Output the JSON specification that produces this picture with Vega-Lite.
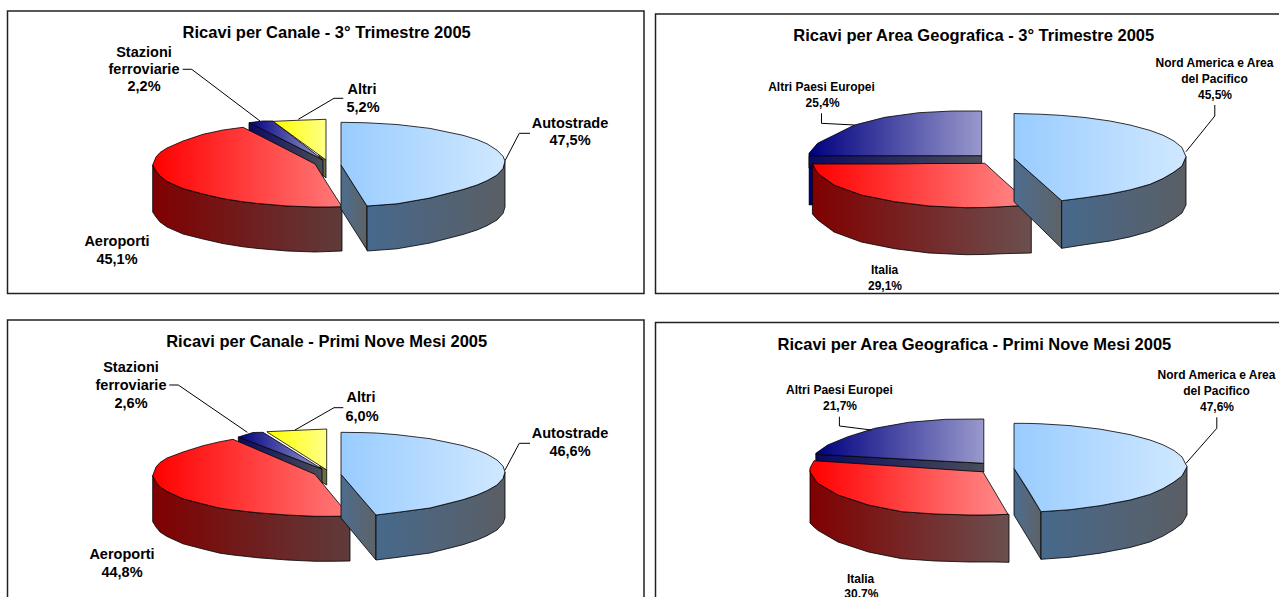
{
"$schema":"https://vega.github.io/schema/vega-lite/v6.json",
"description":"Four pseudo-3D exploded pies. Arc marks cannot be elliptical, so faces are area marks traced from the reference picture; the printed shares are the labelled values.",
"width":1279,"height":597,"padding":0,"autosize":{"type":"none"},
"background":"white","view":{"stroke":null},
"datasets":{
"frames":[{"panel":"A","x":7.5,"x2":644,"y":11,"y2":293.5},{"panel":"B","x":655.5,"x2":1300,"y":14,"y2":293.5},{"panel":"C","x":7.5,"x2":644,"y":320,"y2":610},{"panel":"D","x":655.5,"x2":1300,"y":322.5,"y2":610}],
"titles":[{"text":"Ricavi per Canale - 3° Trimestre 2005","x":326.7,"y":33},{"text":"Ricavi per Area Geografica - 3° Trimestre 2005","x":973.7,"y":36},{"text":"Ricavi per Canale - Primi Nove Mesi 2005","x":326.7,"y":342},{"text":"Ricavi per Area Geografica - Primi Nove Mesi 2005","x":974.4,"y":345}],
"labelsLeft":[{"text":"Stazioni","x":144,"y":53},{"text":"ferroviarie","x":144,"y":70},{"text":"2,2%","x":144,"y":87},{"text":"Altri","x":362,"y":90},{"text":"5,2%","x":363,"y":108},{"text":"Autostrade","x":570,"y":124},{"text":"47,5%","x":570,"y":141},{"text":"Aeroporti","x":117,"y":242},{"text":"45,1%","x":117,"y":260},
{"text":"Stazioni","x":131,"y":368},{"text":"ferroviarie","x":131,"y":386},{"text":"2,6%","x":131,"y":404},{"text":"Altri","x":361,"y":398},{"text":"6,0%","x":362,"y":417},{"text":"Autostrade","x":570,"y":434},{"text":"46,6%","x":570,"y":452},{"text":"Aeroporti","x":122,"y":555},{"text":"44,8%","x":122,"y":572.7}],
"labelsRight":[{"text":"Altri Paesi Europei","x":821.5,"y":87},{"text":"25,4%","x":822.6,"y":103.3},{"text":"Nord America e Area","x":1214.5,"y":62.7},{"text":"del Pacifico","x":1214.5,"y":79},{"text":"45,5%","x":1215,"y":95},{"text":"Italia","x":884.6,"y":270},{"text":"29,1%","x":885,"y":286},
{"text":"Altri Paesi Europei","x":839.4,"y":390.3},{"text":"21,7%","x":840,"y":406},{"text":"Nord America e Area","x":1216.5,"y":375},{"text":"del Pacifico","x":1216.5,"y":391},{"text":"47,6%","x":1217,"y":407},{"text":"Italia","x":860.6,"y":579},{"text":"30,7%","x":861.3,"y":594.3}],
"leaders":[
{"id":"A1","i":1,"x":182.7,"y":69.3},{"id":"A1","i":2,"x":191.7,"y":69.3},{"id":"A1","i":3,"x":260,"y":121},
{"id":"A2","i":1,"x":343.3,"y":98.3},{"id":"A2","i":2,"x":334,"y":98.3},{"id":"A2","i":3,"x":298.3,"y":119.3},
{"id":"A3","i":1,"x":530,"y":133.3},{"id":"A3","i":2,"x":519.3,"y":133.3},{"id":"A3","i":3,"x":505,"y":160.7},
{"id":"B1","i":1,"x":821.5,"y":113.3},{"id":"B1","i":2,"x":821.5,"y":123.3},{"id":"B1","i":3,"x":854.5,"y":125},
{"id":"B2","i":1,"x":1214.8,"y":105},{"id":"B2","i":2,"x":1214.8,"y":116},{"id":"B2","i":3,"x":1186,"y":151.7},
{"id":"C1","i":1,"x":169.3,"y":385},{"id":"C1","i":2,"x":178.3,"y":385},{"id":"C1","i":3,"x":247.3,"y":432.3},
{"id":"C2","i":1,"x":343.3,"y":407.7},{"id":"C2","i":2,"x":334,"y":407.7},{"id":"C2","i":3,"x":295,"y":430},
{"id":"C3","i":1,"x":530,"y":443.3},{"id":"C3","i":2,"x":519.3,"y":443.3},{"id":"C3","i":3,"x":505,"y":470},
{"id":"D1","i":1,"x":839.4,"y":416.7},{"id":"D1","i":2,"x":839.4,"y":426},{"id":"D1","i":3,"x":871.4,"y":430},
{"id":"D2","i":1,"x":1216.8,"y":417.3},{"id":"D2","i":2,"x":1216.8,"y":428.3},{"id":"D2","i":3,"x":1186,"y":463.3}],

"A_altri_wall":[{"x":319,"y":154,"y2":172},{"x":326,"y":160,"y2":178}],
"A_altri_top":[{"x":274,"y":121.3,"y2":122},{"x":300,"y":120.2,"y2":141},{"x":326,"y":119.3,"y2":160}],
"A_staz_wall":[{"x":249,"y":122.7,"y2":135},{"x":323,"y":160,"y2":178}],
"A_staz_top":[{"x":249,"y":122.7,"y2":122.7},{"x":263,"y":121,"y2":129.7},{"x":273,"y":121,"y2":134.7},{"x":323,"y":160,"y2":160}],
"A_aero_wall":[{"x":152.7,"y":165,"y2":212},{"x":156,"y":171,"y2":217},{"x":160,"y":176,"y2":222},{"x":167,"y":181.5,"y2":227},{"x":183,"y":188.6,"y2":234},{"x":203,"y":194,"y2":239},{"x":223,"y":198.6,"y2":243.6},{"x":243,"y":201.8,"y2":246.8},{"x":257,"y":203.4,"y2":248.4},{"x":287,"y":206,"y2":251},{"x":315,"y":207,"y2":252},{"x":342,"y":206.7,"y2":251}],
"A_aero_top":[{"x":152.7,"y":165,"y2":165},{"x":156,"y":157,"y2":171},{"x":160,"y":152.5,"y2":176},{"x":167,"y":148,"y2":181.5},{"x":183,"y":141,"y2":188.6},{"x":203,"y":134.3,"y2":194},{"x":223,"y":130,"y2":198.6},{"x":243,"y":127.3,"y2":201.8},{"x":257,"y":134.3,"y2":203.4},{"x":287,"y":149.6,"y2":206},{"x":315,"y":164,"y2":207},{"x":330,"y":188,"y2":207},{"x":342,"y":206.7,"y2":206.7}],
"A_auto_inner":[{"x":341,"y":165,"y2":209},{"x":367,"y":206,"y2":250}],
"A_auto_front":[{"x":367,"y":206,"y2":251},{"x":397,"y":203.8,"y2":248.8},{"x":430,"y":198,"y2":243},{"x":463,"y":189.5,"y2":234.5},{"x":477,"y":185,"y2":230},{"x":487,"y":180.7,"y2":225.7},{"x":497,"y":175,"y2":220},{"x":503,"y":168.5,"y2":213.5},{"x":505,"y":161,"y2":207}],
"A_auto_top":[{"x":341,"y":122.3,"y2":165},{"x":353,"y":122.5,"y2":184},{"x":367,"y":122.8,"y2":206},{"x":397,"y":124.5,"y2":203.8},{"x":430,"y":128.4,"y2":198},{"x":463,"y":135.3,"y2":189.5},{"x":477,"y":139.6,"y2":185},{"x":487,"y":143.8,"y2":180.7},{"x":497,"y":150.2,"y2":175},{"x":503,"y":156.3,"y2":168.5},{"x":505,"y":161,"y2":161}],

"B_altri_strip":[{"x":809,"y":155.7,"y2":205},{"x":812.7,"y":155.7,"y2":205}],
"B_altri_wall":[{"x":809,"y":155.7,"y2":168},{"x":981.7,"y":155.7,"y2":168}],
"B_altri_top":[{"x":809,"y":153.3,"y2":155.7},{"x":817.5,"y":143.3,"y2":155.7},{"x":834.3,"y":135,"y2":155.7},{"x":854.5,"y":125,"y2":155.7},{"x":884.9,"y":117.3,"y2":155.7},{"x":918.7,"y":112.7,"y2":155.7},{"x":952.4,"y":111,"y2":155.7},{"x":981.7,"y":111,"y2":155.7}],
"B_ital_wall":[{"x":812.4,"y":164,"y2":214},{"x":817.8,"y":173.3,"y2":220},{"x":834,"y":185,"y2":232},{"x":861.3,"y":195,"y2":242},{"x":894.7,"y":201.7,"y2":248.7},{"x":929,"y":206,"y2":253},{"x":965.6,"y":207.7,"y2":254.7},{"x":984.8,"y":207.5,"y2":254.5},{"x":1003,"y":206.7,"y2":253.7},{"x":1031.3,"y":205,"y2":253}],
"B_ital_top":[{"x":812.4,"y":164,"y2":164},{"x":817.8,"y":164,"y2":173.3},{"x":834,"y":164,"y2":185},{"x":861.3,"y":164,"y2":195},{"x":894.7,"y":164,"y2":201.7},{"x":929,"y":163.5,"y2":206},{"x":965.6,"y":163.5,"y2":207.7},{"x":984.8,"y":163.3,"y2":207.5},{"x":1003,"y":180,"y2":206.7},{"x":1031.3,"y":205,"y2":205}],
"B_nord_inner":[{"x":1014,"y":158.3,"y2":201.7},{"x":1061.7,"y":200.7,"y2":248.3}],
"B_nord_front":[{"x":1061.7,"y":200.7,"y2":248.3},{"x":1085,"y":197.7,"y2":244.7},{"x":1110,"y":194,"y2":241},{"x":1130,"y":189.9,"y2":236.9},{"x":1150,"y":184.3,"y2":231.3},{"x":1163,"y":178.5,"y2":225.5},{"x":1174,"y":172,"y2":219},{"x":1182,"y":166,"y2":213},{"x":1186,"y":156.7,"y2":205}],
"B_nord_top":[{"x":1014,"y":113.5,"y2":158.3},{"x":1040,"y":114.2,"y2":181.4},{"x":1061.7,"y":115.4,"y2":200.7},{"x":1085,"y":117.5,"y2":197.7},{"x":1110,"y":121,"y2":194},{"x":1130,"y":125,"y2":189.9},{"x":1150,"y":130.4,"y2":184.3},{"x":1163,"y":135.2,"y2":178.5},{"x":1174,"y":141,"y2":172},{"x":1182,"y":147.5,"y2":166},{"x":1186,"y":156.7,"y2":156.7}],

"C_altri_wall":[{"x":320,"y":465,"y2":481},{"x":326.7,"y":470,"y2":485}],
"C_altri_top":[{"x":267,"y":431.7,"y2":432},{"x":297,"y":430.3,"y2":451},{"x":326.7,"y":429,"y2":470}],
"C_staz_wall":[{"x":238.3,"y":437,"y2":444},{"x":322,"y":469,"y2":486}],
"C_staz_top":[{"x":238.3,"y":437,"y2":437},{"x":253,"y":432.5,"y2":442.6},{"x":263,"y":432.3,"y2":446.4},{"x":322,"y":469,"y2":469}],
"C_aero_wall":[{"x":152.7,"y":475.7,"y2":521.7},{"x":156,"y":482,"y2":527},{"x":160,"y":487,"y2":532},{"x":167,"y":491.5,"y2":536.5},{"x":183,"y":498.8,"y2":543.8},{"x":203,"y":504,"y2":549},{"x":220,"y":508.2,"y2":553.2},{"x":233,"y":510,"y2":555},{"x":257,"y":512.7,"y2":557.7},{"x":287,"y":515,"y2":560},{"x":315,"y":516.3,"y2":561.3},{"x":332,"y":516.3,"y2":561.3},{"x":350,"y":516,"y2":561}],
"C_aero_top":[{"x":152.7,"y":475.7,"y2":475.7},{"x":156,"y":467,"y2":482},{"x":160,"y":462.5,"y2":487},{"x":167,"y":458,"y2":491.5},{"x":183,"y":452,"y2":498.8},{"x":203,"y":445.7,"y2":504},{"x":220,"y":441.7,"y2":508.2},{"x":233,"y":439.3,"y2":510},{"x":257,"y":449.5,"y2":512.7},{"x":287,"y":462.3,"y2":515},{"x":315,"y":474.3,"y2":516.3},{"x":332,"y":495,"y2":516.3},{"x":349.3,"y":516,"y2":516}],
"C_auto_inner":[{"x":341,"y":474.3,"y2":518},{"x":376,"y":515,"y2":560}],
"C_auto_front":[{"x":376,"y":515,"y2":560},{"x":397,"y":512.4,"y2":557.4},{"x":430,"y":508,"y2":553},{"x":463,"y":499.7,"y2":544.7},{"x":477,"y":495,"y2":540},{"x":487,"y":490.7,"y2":535.7},{"x":497,"y":485,"y2":530},{"x":503,"y":478.5,"y2":523.5},{"x":505,"y":472,"y2":518}],
"C_auto_top":[{"x":341,"y":432.3,"y2":474.3},{"x":363,"y":432.6,"y2":500},{"x":376,"y":433,"y2":515},{"x":397,"y":434.7,"y2":512.4},{"x":430,"y":438.7,"y2":508},{"x":463,"y":445.6,"y2":499.7},{"x":477,"y":449.9,"y2":495},{"x":487,"y":454.1,"y2":490.7},{"x":497,"y":460,"y2":485},{"x":503,"y":466.1,"y2":478.5},{"x":505,"y":472,"y2":472}],

"D_altri_wall":[{"x":815.8,"y":454.3,"y2":468},{"x":983.8,"y":463.3,"y2":472}],
"D_altri_top":[{"x":815.8,"y":453.3,"y2":454.3},{"x":827.6,"y":445,"y2":455},{"x":847.9,"y":436.7,"y2":456},{"x":874.8,"y":428.3,"y2":457.5},{"x":908.6,"y":422.3,"y2":459.3},{"x":945.6,"y":419.3,"y2":461.3},{"x":983.8,"y":419,"y2":463.3}],
"D_ital_wall":[{"x":810,"y":470,"y2":523},{"x":814,"y":478,"y2":527},{"x":817.8,"y":483.3,"y2":530.3},{"x":838,"y":495,"y2":542},{"x":868.4,"y":505,"y2":552},{"x":901.8,"y":511.7,"y2":558.7},{"x":935.2,"y":514,"y2":561},{"x":969.6,"y":515,"y2":562},{"x":982.8,"y":515,"y2":562},{"x":994.9,"y":514.8,"y2":562},{"x":1009,"y":514.3,"y2":562.3}],
"D_ital_top":[{"x":810,"y":468,"y2":472},{"x":814,"y":460.7,"y2":478},{"x":817.8,"y":461,"y2":483.3},{"x":838,"y":462.3,"y2":495},{"x":868.4,"y":464.3,"y2":505},{"x":901.8,"y":466.5,"y2":511.7},{"x":935.2,"y":468.7,"y2":514},{"x":969.6,"y":471,"y2":515},{"x":982.8,"y":471.7,"y2":515},{"x":994.9,"y":492,"y2":514.8},{"x":1008,"y":514.3,"y2":514.3}],
"D_nord_inner":[{"x":1014,"y":468.3,"y2":515},{"x":1041,"y":511.7,"y2":559.3}],
"D_nord_front":[{"x":1041,"y":511.7,"y2":559.3},{"x":1070,"y":509.7,"y2":557.2},{"x":1100,"y":505.7,"y2":553.2},{"x":1130,"y":500,"y2":547.5},{"x":1150,"y":494.4,"y2":541.9},{"x":1163,"y":488.6,"y2":536.1},{"x":1174,"y":482,"y2":529.5},{"x":1182,"y":476,"y2":523.5},{"x":1187,"y":466.7,"y2":515}],
"D_nord_top":[{"x":1014,"y":423.3,"y2":468.3},{"x":1028,"y":423.4,"y2":490},{"x":1041,"y":423.8,"y2":511.7},{"x":1070,"y":425.6,"y2":509.7},{"x":1100,"y":429.1,"y2":505.7},{"x":1130,"y":434.6,"y2":500},{"x":1150,"y":440,"y2":494.4},{"x":1163,"y":444.8,"y2":488.6},{"x":1174,"y":450.5,"y2":482},{"x":1182,"y":456.9,"y2":476},{"x":1187,"y":466.7,"y2":466.7}]
},
"encoding":{
"x":{"field":"x","type":"quantitative","axis":null,"scale":{"domain":[0,1279],"nice":false,"zero":false}},
"y":{"field":"y","type":"quantitative","axis":null,"stack":null,"scale":{"domain":[597,0],"nice":false,"zero":false}}
},
"layer":[
{"data":{"name":"frames"},"mark":{"type":"rect","filled":false,"stroke":"#222222","strokeWidth":1.5,"clip":true},"encoding":{"x2":{"field":"x2"},"y2":{"field":"y2"}}},

{"data":{"name":"A_altri_wall"},"mark":{"type":"area","stroke":"black","strokeWidth":0.8,"fill":"#6e6e45"},"encoding":{"y2":{"field":"y2"}}},
{"data":{"name":"A_staz_wall"},"mark":{"type":"area","stroke":"black","strokeWidth":0.8,"fill":{"gradient":"linear","x1":0,"y1":0,"x2":1,"y2":0,"stops":[{"offset":0,"color":"#0a0a60"},{"offset":1,"color":"#4a4d58"}]}},"encoding":{"y2":{"field":"y2"}}},
{"data":{"name":"A_staz_top"},"mark":{"type":"area","stroke":"black","strokeWidth":0.8,"fill":{"gradient":"linear","x1":0,"y1":0,"x2":1,"y2":0,"stops":[{"offset":0,"color":"#000080"},{"offset":1,"color":"#9999cc"}]}},"encoding":{"y2":{"field":"y2"}}},
{"data":{"name":"A_altri_top"},"mark":{"type":"area","stroke":"black","strokeWidth":0.8,"fill":{"gradient":"linear","x1":0,"y1":0,"x2":1,"y2":0,"stops":[{"offset":0,"color":"#ffff00"},{"offset":1,"color":"#ffff88"}]}},"encoding":{"y2":{"field":"y2"}}},
{"data":{"name":"A_aero_wall"},"mark":{"type":"area","stroke":"black","strokeWidth":0.8,"fill":{"gradient":"linear","x1":0,"y1":0,"x2":1,"y2":0,"stops":[{"offset":0,"color":"#800000"},{"offset":1,"color":"#5f3b3b"}]}},"encoding":{"y2":{"field":"y2"}}},
{"data":{"name":"A_aero_top"},"mark":{"type":"area","stroke":"black","strokeWidth":0.8,"fill":{"gradient":"linear","x1":0,"y1":0,"x2":1,"y2":0,"stops":[{"offset":0,"color":"#ff0000"},{"offset":1,"color":"#ff7a7a"}]}},"encoding":{"y2":{"field":"y2"}}},
{"data":{"name":"A_auto_inner"},"mark":{"type":"area","stroke":"black","strokeWidth":0.8,"fill":{"gradient":"linear","x1":0,"y1":0,"x2":1,"y2":0,"stops":[{"offset":0,"color":"#4d6d8f"},{"offset":1,"color":"#5e6266"}]}},"encoding":{"y2":{"field":"y2"}}},
{"data":{"name":"A_auto_front"},"mark":{"type":"area","stroke":"black","strokeWidth":0.8,"fill":{"gradient":"linear","x1":0,"y1":0,"x2":1,"y2":0,"stops":[{"offset":0,"color":"#47698c"},{"offset":1,"color":"#5a5e64"}]}},"encoding":{"y2":{"field":"y2"}}},
{"data":{"name":"A_auto_top"},"mark":{"type":"area","stroke":"black","strokeWidth":0.8,"fill":{"gradient":"linear","x1":0,"y1":0,"x2":1,"y2":0,"stops":[{"offset":0,"color":"#99ccff"},{"offset":1,"color":"#d0e8ff"}]}},"encoding":{"y2":{"field":"y2"}}},

{"data":{"name":"B_altri_strip"},"mark":{"type":"area","stroke":"black","strokeWidth":0.5,"fill":"#000080"},"encoding":{"y2":{"field":"y2"}}},
{"data":{"name":"B_altri_wall"},"mark":{"type":"area","stroke":"black","strokeWidth":0.8,"fill":{"gradient":"linear","x1":0,"y1":0,"x2":1,"y2":0,"stops":[{"offset":0,"color":"#0a0a60"},{"offset":1,"color":"#4a4d58"}]}},"encoding":{"y2":{"field":"y2"}}},
{"data":{"name":"B_altri_top"},"mark":{"type":"area","stroke":"black","strokeWidth":0.8,"fill":{"gradient":"linear","x1":0,"y1":0,"x2":1,"y2":0,"stops":[{"offset":0,"color":"#000080"},{"offset":1,"color":"#9999cc"}]}},"encoding":{"y2":{"field":"y2"}}},
{"data":{"name":"B_ital_wall"},"mark":{"type":"area","stroke":"black","strokeWidth":0.8,"fill":{"gradient":"linear","x1":0,"y1":0,"x2":1,"y2":0,"stops":[{"offset":0,"color":"#800000"},{"offset":1,"color":"#6b4f4f"}]}},"encoding":{"y2":{"field":"y2"}}},
{"data":{"name":"B_ital_top"},"mark":{"type":"area","stroke":"black","strokeWidth":0.8,"fill":{"gradient":"linear","x1":0,"y1":0,"x2":1,"y2":0,"stops":[{"offset":0,"color":"#ff0000"},{"offset":1,"color":"#ff8c8c"}]}},"encoding":{"y2":{"field":"y2"}}},
{"data":{"name":"B_nord_inner"},"mark":{"type":"area","stroke":"black","strokeWidth":0.8,"fill":{"gradient":"linear","x1":0,"y1":0,"x2":1,"y2":0,"stops":[{"offset":0,"color":"#4d6d8f"},{"offset":1,"color":"#5e6266"}]}},"encoding":{"y2":{"field":"y2"}}},
{"data":{"name":"B_nord_front"},"mark":{"type":"area","stroke":"black","strokeWidth":0.8,"fill":{"gradient":"linear","x1":0,"y1":0,"x2":1,"y2":0,"stops":[{"offset":0,"color":"#47698c"},{"offset":1,"color":"#5a5e64"}]}},"encoding":{"y2":{"field":"y2"}}},
{"data":{"name":"B_nord_top"},"mark":{"type":"area","stroke":"black","strokeWidth":0.8,"fill":{"gradient":"linear","x1":0,"y1":0,"x2":1,"y2":0,"stops":[{"offset":0,"color":"#99ccff"},{"offset":1,"color":"#d0e8ff"}]}},"encoding":{"y2":{"field":"y2"}}},

{"data":{"name":"C_altri_wall"},"mark":{"type":"area","stroke":"black","strokeWidth":0.8,"fill":"#6e6e45"},"encoding":{"y2":{"field":"y2"}}},
{"data":{"name":"C_staz_wall"},"mark":{"type":"area","stroke":"black","strokeWidth":0.8,"fill":{"gradient":"linear","x1":0,"y1":0,"x2":1,"y2":0,"stops":[{"offset":0,"color":"#0a0a60"},{"offset":1,"color":"#4a4d58"}]}},"encoding":{"y2":{"field":"y2"}}},
{"data":{"name":"C_staz_top"},"mark":{"type":"area","stroke":"black","strokeWidth":0.8,"fill":{"gradient":"linear","x1":0,"y1":0,"x2":1,"y2":0,"stops":[{"offset":0,"color":"#000080"},{"offset":1,"color":"#9999cc"}]}},"encoding":{"y2":{"field":"y2"}}},
{"data":{"name":"C_altri_top"},"mark":{"type":"area","stroke":"black","strokeWidth":0.8,"fill":{"gradient":"linear","x1":0,"y1":0,"x2":1,"y2":0,"stops":[{"offset":0,"color":"#ffff00"},{"offset":1,"color":"#ffff88"}]}},"encoding":{"y2":{"field":"y2"}}},
{"data":{"name":"C_aero_wall"},"mark":{"type":"area","stroke":"black","strokeWidth":0.8,"fill":{"gradient":"linear","x1":0,"y1":0,"x2":1,"y2":0,"stops":[{"offset":0,"color":"#800000"},{"offset":1,"color":"#5f3b3b"}]}},"encoding":{"y2":{"field":"y2"}}},
{"data":{"name":"C_aero_top"},"mark":{"type":"area","stroke":"black","strokeWidth":0.8,"fill":{"gradient":"linear","x1":0,"y1":0,"x2":1,"y2":0,"stops":[{"offset":0,"color":"#ff0000"},{"offset":1,"color":"#ff7a7a"}]}},"encoding":{"y2":{"field":"y2"}}},
{"data":{"name":"C_auto_inner"},"mark":{"type":"area","stroke":"black","strokeWidth":0.8,"fill":{"gradient":"linear","x1":0,"y1":0,"x2":1,"y2":0,"stops":[{"offset":0,"color":"#4d6d8f"},{"offset":1,"color":"#5e6266"}]}},"encoding":{"y2":{"field":"y2"}}},
{"data":{"name":"C_auto_front"},"mark":{"type":"area","stroke":"black","strokeWidth":0.8,"fill":{"gradient":"linear","x1":0,"y1":0,"x2":1,"y2":0,"stops":[{"offset":0,"color":"#47698c"},{"offset":1,"color":"#5a5e64"}]}},"encoding":{"y2":{"field":"y2"}}},
{"data":{"name":"C_auto_top"},"mark":{"type":"area","stroke":"black","strokeWidth":0.8,"fill":{"gradient":"linear","x1":0,"y1":0,"x2":1,"y2":0,"stops":[{"offset":0,"color":"#99ccff"},{"offset":1,"color":"#d0e8ff"}]}},"encoding":{"y2":{"field":"y2"}}},

{"data":{"name":"D_altri_wall"},"mark":{"type":"area","stroke":"black","strokeWidth":0.8,"fill":{"gradient":"linear","x1":0,"y1":0,"x2":1,"y2":0,"stops":[{"offset":0,"color":"#0a0a60"},{"offset":1,"color":"#4a4d58"}]}},"encoding":{"y2":{"field":"y2"}}},
{"data":{"name":"D_altri_top"},"mark":{"type":"area","stroke":"black","strokeWidth":0.8,"fill":{"gradient":"linear","x1":0,"y1":0,"x2":1,"y2":0,"stops":[{"offset":0,"color":"#000080"},{"offset":1,"color":"#9999cc"}]}},"encoding":{"y2":{"field":"y2"}}},
{"data":{"name":"D_ital_wall"},"mark":{"type":"area","stroke":"black","strokeWidth":0.8,"fill":{"gradient":"linear","x1":0,"y1":0,"x2":1,"y2":0,"stops":[{"offset":0,"color":"#800000"},{"offset":1,"color":"#6b4f4f"}]}},"encoding":{"y2":{"field":"y2"}}},
{"data":{"name":"D_ital_top"},"mark":{"type":"area","stroke":"black","strokeWidth":0.8,"fill":{"gradient":"linear","x1":0,"y1":0,"x2":1,"y2":0,"stops":[{"offset":0,"color":"#ff0000"},{"offset":1,"color":"#ff8c8c"}]}},"encoding":{"y2":{"field":"y2"}}},
{"data":{"name":"D_nord_inner"},"mark":{"type":"area","stroke":"black","strokeWidth":0.8,"fill":{"gradient":"linear","x1":0,"y1":0,"x2":1,"y2":0,"stops":[{"offset":0,"color":"#4d6d8f"},{"offset":1,"color":"#5e6266"}]}},"encoding":{"y2":{"field":"y2"}}},
{"data":{"name":"D_nord_front"},"mark":{"type":"area","stroke":"black","strokeWidth":0.8,"fill":{"gradient":"linear","x1":0,"y1":0,"x2":1,"y2":0,"stops":[{"offset":0,"color":"#47698c"},{"offset":1,"color":"#5a5e64"}]}},"encoding":{"y2":{"field":"y2"}}},
{"data":{"name":"D_nord_top"},"mark":{"type":"area","stroke":"black","strokeWidth":0.8,"fill":{"gradient":"linear","x1":0,"y1":0,"x2":1,"y2":0,"stops":[{"offset":0,"color":"#99ccff"},{"offset":1,"color":"#d0e8ff"}]}},"encoding":{"y2":{"field":"y2"}}},

{"data":{"name":"leaders"},"mark":{"type":"line","stroke":"black","strokeWidth":1},"encoding":{"detail":{"field":"id"},"order":{"field":"i","type":"quantitative"}}},
{"data":{"name":"titles"},"mark":{"type":"text","font":"Liberation Sans","fontWeight":"bold","fontSize":16.5,"align":"center","baseline":"middle","color":"black"},"encoding":{"text":{"field":"text"}}},
{"data":{"name":"labelsLeft"},"mark":{"type":"text","font":"Liberation Sans","fontWeight":"bold","fontSize":14.5,"align":"center","baseline":"middle","color":"black"},"encoding":{"text":{"field":"text"}}},
{"data":{"name":"labelsRight"},"mark":{"type":"text","font":"Liberation Sans","fontWeight":"bold","fontSize":12,"align":"center","baseline":"middle","color":"black"},"encoding":{"text":{"field":"text"}}}
]
}
